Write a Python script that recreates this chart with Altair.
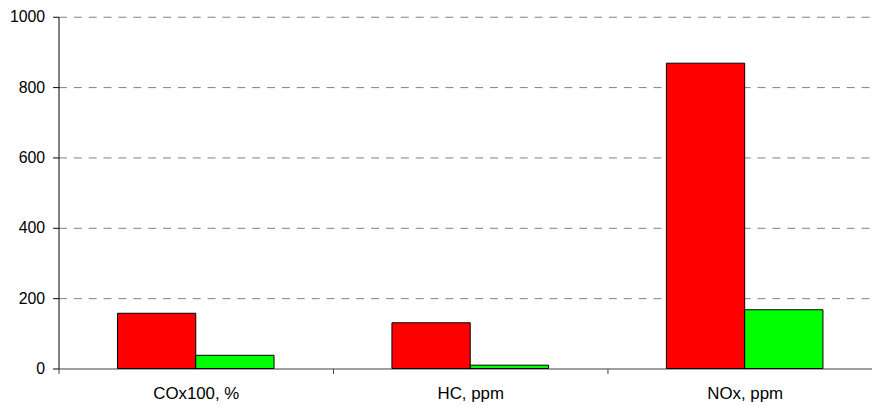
import altair as alt
import pandas as pd

categories = ["COx100, %", "HC, ppm", "NOx, ppm"]
series_names = ["A", "B"]
values_a = [157, 130, 868]
values_b = [37.5, 9.5, 167]
colors = ["#FF0000", "#00FF00"]
y_ticks = [0, 200, 400, 600, 800, 1000]

rows = []
for c, a, b in zip(categories, values_a, values_b):
    rows.append({"cat": c, "series": series_names[0], "value": a})
    rows.append({"cat": c, "series": series_names[1], "value": b})
df = pd.DataFrame(rows)

FONT = "Liberation Sans"

chart = alt.Chart(df).mark_bar(stroke="black", strokeWidth=1).encode(
    x=alt.X(
        "cat:N",
        sort=categories,
        title=None,
        scale=alt.Scale(paddingInner=0, paddingOuter=0),
        axis=alt.Axis(
            labelAngle=0,
            tickBand="extent",
            tickExtra=False,
            tickSize=5,
            tickColor="#404040",
            domain=False,
            labelPadding=12,
            labelFontSize=17,
            labelFont=FONT,
            labelColor="black",
            grid=False,
        ),
    ),
    xOffset=alt.XOffset(
        "series:N",
        sort=series_names,
        scale=alt.Scale(paddingInner=0, paddingOuter=0.753),
    ),
    y=alt.Y(
        "value:Q",
        title=None,
        scale=alt.Scale(domain=[0, 1000], nice=False),
        axis=alt.Axis(
            values=y_ticks,
            format="d",
            tickSize=6,
            tickColor="black",
            domainColor="black",
            labelPadding=8,
            labelFontSize=16,
            labelFont=FONT,
            labelColor="black",
            grid=True,
            gridColor=alt.condition("datum.value == 0", alt.value("#404040"), alt.value("#808080")),
            gridDash=alt.condition("datum.value == 0", alt.value([]), alt.value([8, 7])),
            gridWidth=1,
        ),
    ),
    color=alt.Color(
        "series:N",
        sort=series_names,
        scale=alt.Scale(domain=series_names, range=colors),
        legend=None,
    ),
).properties(
    width=831,
    height=355,
    autosize=alt.AutoSizeParams(type="none"),
    padding={"left": 51, "top": 7, "right": -10, "bottom": 35},
).configure_view(stroke=None).configure_axis(domainWidth=1, tickWidth=1)

chart.save("out.html", embed_options={"renderer": "svg", "actions": False})
